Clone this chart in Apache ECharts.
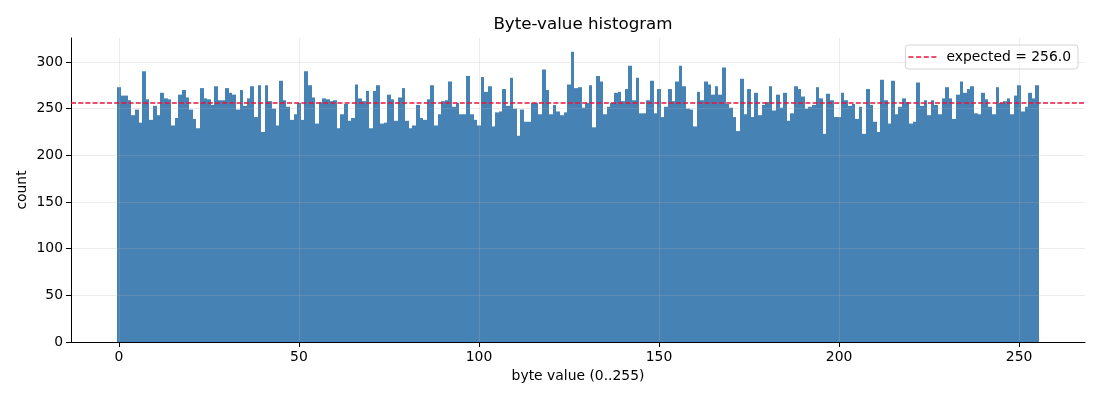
<!DOCTYPE html>
<html>
<head>
<meta charset="utf-8">
<script src="https://cdn.jsdelivr.net/npm/echarts@6/dist/echarts.min.js"></script>
<style>
  html, body { margin: 0; padding: 0; background: #fff; }
  #chart { width: 1100px; height: 400px; }
</style>
</head>
<body>
<div id="chart"></div>
<script>
// counts per byte value 0..255 (index = byte value)
const counts = [
  273, 264, 264, 259, 243, 249, 235, 290, 260, 238, 253, 243, 267, 261, 260, 232,
  240, 265, 270, 262, 249, 239, 229, 272, 261, 260, 254, 274, 259, 259, 272, 267,
  265, 249, 270, 253, 261, 274, 241, 275, 225, 275, 258, 250, 232, 280, 259, 252,
  238, 244, 256, 238, 290, 275, 262, 234, 257, 261, 260, 258, 259, 229, 244, 255,
  237, 240, 276, 261, 258, 269, 229, 269, 275, 234, 235, 265, 260, 237, 262, 272,
  237, 229, 232, 254, 240, 238, 260, 275, 232, 244, 258, 259, 279, 252, 256, 244,
  244, 285, 244, 238, 232, 284, 268, 274, 231, 246, 247, 271, 253, 283, 250, 221,
  249, 236, 236, 256, 256, 244, 292, 270, 244, 254, 247, 243, 246, 276, 311, 272,
  273, 251, 256, 275, 230, 285, 279, 244, 252, 256, 267, 268, 258, 271, 296, 259,
  283, 245, 245, 259, 280, 245, 271, 241, 252, 271, 258, 279, 296, 274, 250, 249,
  231, 268, 259, 279, 276, 265, 274, 265, 294, 255, 251, 241, 226, 282, 244, 271,
  241, 267, 243, 254, 257, 274, 248, 265, 251, 267, 237, 245, 274, 271, 263, 250,
  252, 254, 273, 261, 223, 266, 259, 241, 241, 267, 259, 253, 255, 239, 252, 223,
  271, 254, 236, 225, 281, 259, 234, 280, 244, 252, 261, 257, 234, 236, 278, 253,
  259, 243, 259, 254, 244, 261, 273, 261, 239, 265, 279, 267, 271, 274, 245, 244,
  267, 260, 252, 244, 273, 256, 258, 261, 244, 264, 275, 247, 252, 267, 261, 275
];
const expected = 256.0;
const xTicks = [0, 50, 100, 150, 200, 250];
const yTicks = [0, 50, 100, 150, 200, 250, 300];
const xRange = [-13.3, 268.3];
const yRange = [0, 325.7];

const FONT = 'DejaVu Sans';
const BAR = '#4682b4';
const GRID = 'rgba(176,176,176,0.3)';

const chart = echarts.init(document.getElementById('chart'), null, { renderer: 'canvas' });

const axisCommon = {
  type: 'value',
  z: 3,
  axisLine: { show: true, onZero: false, lineStyle: { color: '#000', width: 1 } },
  axisTick: { show: true, inside: false, length: 5, lineStyle: { color: '#000', width: 1 } },
  axisLabel: { color: '#000', fontSize: 13.9, fontFamily: FONT, margin: 8 },
  splitLine: { show: true, lineStyle: { color: GRID, width: 0.8 } },
  nameLocation: 'middle',
  nameMoveOverlap: false,
  nameTextStyle: { color: '#000', fontSize: 13.9, fontFamily: FONT }
};

chart.setOption({
  animation: false,
  textStyle: { fontFamily: FONT },
  title: {
    text: 'Byte-value histogram',
    left: 578,
    textAlign: 'center',
    top: 11,
    textStyle: { color: '#000', fontSize: 16.7, fontWeight: 'normal', fontFamily: FONT }
  },
  legend: {
    right: 22,
    top: 45,
    padding: [5, 7, 5, 3],
    borderColor: '#d4d4d4',
    borderWidth: 1,
    borderRadius: 3,
    backgroundColor: 'rgba(255,255,255,0.8)',
    itemWidth: 28,
    itemHeight: 2,
    textStyle: { color: '#000', fontSize: 13.9, fontFamily: FONT, padding: [0, 0, 0, 5] },
    data: [{
      name: 'expected = 256.0',
      icon: 'path://M0,0h5v1.5h-5z M7.6,0h5v1.5h-5z M15.2,0h5v1.5h-5z M22.8,0h5v1.5h-5z',
      itemStyle: { color: '#e8143c' }
    }]
  },
  grid: { left: 71, right: 15, top: 38, bottom: 58, containLabel: false },
  xAxis: Object.assign({}, axisCommon, {
    min: xRange[0],
    max: xRange[1],
    name: 'byte value (0..255)',
    nameGap: 27,
    axisTick: Object.assign({}, axisCommon.axisTick, { customValues: xTicks }),
    axisLabel: Object.assign({}, axisCommon.axisLabel, { customValues: xTicks })
  }),
  yAxis: Object.assign({}, axisCommon, {
    min: yRange[0],
    max: yRange[1],
    name: 'count',
    nameGap: 42,
    axisTick: Object.assign({}, axisCommon.axisTick, { customValues: yTicks }),
    axisLabel: Object.assign({}, axisCommon.axisLabel, { customValues: yTicks })
  }),
  series: [
    {
      type: 'custom',
      name: 'counts',
      z: 2,
      silent: true,
      data: counts.map((c, i) => [i, c]),
      encode: { x: 0, y: 1 },
      renderItem(params, api) {
        const b = api.value(0);
        const top = api.coord([b - 0.5, api.value(1)]);
        const bot = api.coord([b + 0.5, 0]);
        // snap bar edges to whole pixels so neighbours meet without seams
        const x0 = Math.round(top[0]);
        const x1 = Math.round(bot[0]);
        return {
          type: 'rect',
          shape: { x: x0, y: top[1], width: x1 - x0, height: bot[1] - top[1] },
          style: { fill: BAR }
        };
      }
    },
    {
      type: 'line',
      name: 'expected = 256.0',
      z: 5,
      silent: true,
      symbol: 'none',
      data: [[xRange[0], expected], [xRange[1], expected]],
      lineStyle: { color: '#e8143c', width: 1.4, type: [5, 2.2] },
      itemStyle: { color: '#e8143c' }
    }
  ]
});
</script>
</body>
</html>
